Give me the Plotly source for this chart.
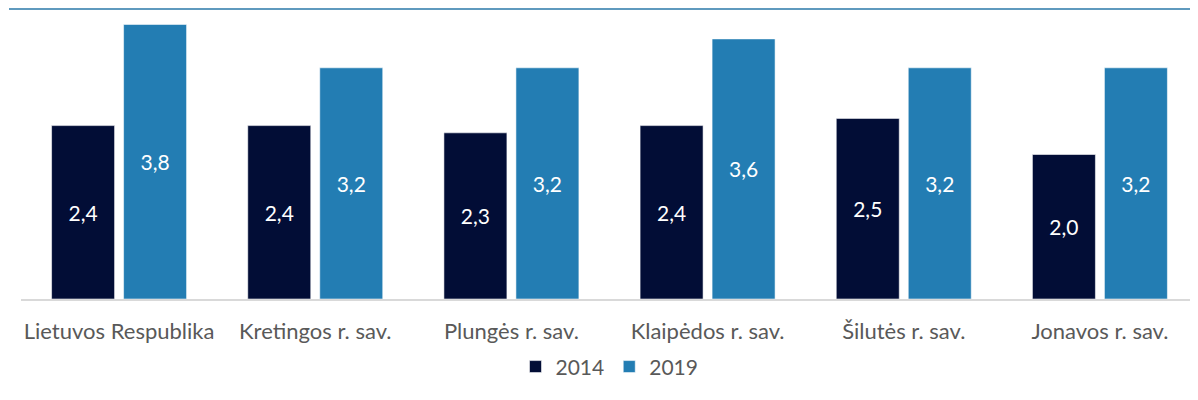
import plotly.graph_objects as go

categories = ["Lietuvos Respublika", "Kretingos r. sav.", "Plungės r. sav.",
              "Klaipėdos r. sav.", "Šilutės r. sav.", "Jonavos r. sav."]
values_2014 = [2.4, 2.4, 2.3, 2.4, 2.5, 2.0]
values_2019 = [3.8, 3.2, 3.2, 3.6, 3.2, 3.2]

FONT = "Lato"
fig = go.Figure()
for name, vals, color in [("2014", values_2014, "#020d36"), ("2019", values_2019, "#237db3")]:
    fig.add_trace(go.Bar(
        name=name, x=categories, y=vals,
        marker=dict(color=color, line=dict(color="rgba(255,255,255,0.55)", width=1)),
        texttemplate="%{y:.1f}", textposition="inside", insidetextanchor="middle",
        textangle=0, constraintext="none",
        textfont=dict(family=FONT, size=21, color="white"),
    ))

fig.update_layout(
    width=1190, height=392,
    margin=dict(l=13, r=0, t=2, b=101),
    paper_bgcolor="white", plot_bgcolor="white",
    barmode="group", bargap=0.266, bargroupgap=0.125,
    separators=", ",
    font=dict(family=FONT, size=22, color="#595959"),
    showlegend=True,
    legend=dict(orientation="h", x=0.5, xanchor="center", y=-0.235, yanchor="middle",
                font=dict(family=FONT, size=21, color="#595959"),
                itemwidth=30, traceorder="normal"),
    xaxis=dict(showgrid=False, showline=True, linecolor="#d9d9d9", linewidth=1.5,
               ticks="", ticklabelstandoff=12,
               tickfont=dict(family=FONT, size=22, color="#595959")),
    yaxis=dict(range=[0, 4], visible=False, showgrid=False, zeroline=False),
    shapes=[dict(type="line", xref="paper", yref="paper", x0=-0.0102, x1=1.0, y0=1.0035, y1=1.0035,
                 line=dict(color="#2a78a8", width=1.5))],
)

fig.write_html("out.html")
